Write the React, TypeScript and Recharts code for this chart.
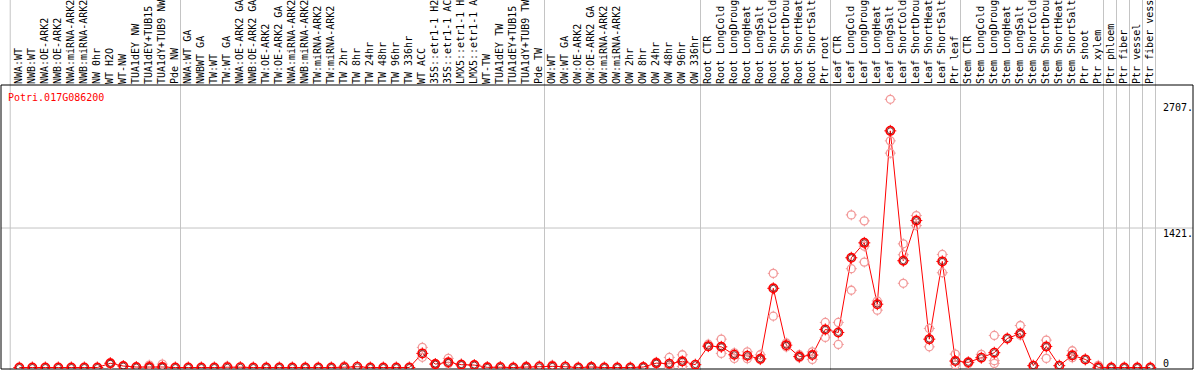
import React from 'react';
import { ComposedChart, Line, XAxis, YAxis, ReferenceLine } from 'recharts';

const title = 'Potri.017G086200';

const labels: string[] = [
  'NWA:WT', 'NWB:WT', 'NWA:OE-ARK2', 'NWB:OE-ARK2', 'NWA:miRNA-ARK2', 'NWB:miRNA-ARK2', 'NW 0hr', 'WT H2O', 'WT-NW', 'TUA1dEY NW',
  'TUA1dEY+TUB15', 'TUA1dY+TUB9 NW', 'Pde NW', 'NWA:WT GA', 'NWBWT GA', 'TW:WT', 'TW:WT GA', 'NWA:OE-ARK2 GA', 'NWB:OE-ARK2 GA', 'TW:OE-ARK2',
  'TW:OE-ARK2 GA', 'NWA:miRNA-ARK2', 'NWB:miRNA-ARK2', 'TW:miRNA-ARK2', 'TW:miRNA-ARK2', 'TW 2hr', 'TW 8hr', 'TW 24hr', 'TW 48hr', 'TW 96hr',
  'TW 336hr', 'WT ACC', '35S::etr1-1 H2', '35S::etr1-1 AC', 'LMX5::etr1-1 H', 'LMX5::etr1-1 A', 'WT-TW', 'TUA1dEY TW', 'TUA1dEY+TUB15', 'TUA1dY+TUB9 TW',
  'Pde TW', 'OW:WT', 'OW:WT GA', 'OW:OE-ARK2', 'OW:OE-ARK2 GA', 'OW:miRNA-ARK2', 'OW:miRNA-ARK2', 'OW 2hr', 'OW 8hr', 'OW 24hr',
  'OW 48hr', 'OW 96hr', 'OW 336hr', 'Root CTR', 'Root LongCold', 'Root LongDroug', 'Root LongHeat', 'Root LongSalt', 'Root ShortCold', 'Root ShortDrou',
  'Root ShortHeat', 'Root ShortSalt', 'Ptr root', 'Leaf CTR', 'Leaf LongCold', 'Leaf LongDroug', 'Leaf LongHeat', 'Leaf LongSalt', 'Leaf ShortCold', 'Leaf ShortDrou',
  'Leaf ShortHeat', 'Leaf ShortSalt', 'Ptr leaf', 'Stem CTR', 'Stem LongCold', 'Stem LongDroug', 'Stem LongHeat', 'Stem LongSalt', 'Stem ShortCold', 'Stem ShortDrou',
  'Stem ShortHeat', 'Stem ShortSalt', 'Ptr shoot', 'Ptr xylem', 'Ptr phloem', 'Ptr fiber', 'Ptr vessel', 'Ptr fiber vess',
];

const means: number[] = [
  0, 0, 0, 0, 0, 0, 0, 43, 15, 5,
  5, 5, 0, 0, 0, 0, 3, 3, 0, 0,
  0, 0, 0, 0, 0, 3, 8, 0, 0, 0,
  0, 144, 35, 53, 29, 25, 2, 3, 0, 5,
  8, 12, 8, 0, 5, 0, 0, 0, 5, 45,
  39, 63, 29, 218, 211, 130, 120, 89, 807, 228,
  112, 127, 388, 357, 1118, 1270, 645, 2411, 1088, 1497,
  289, 1081, 66, 53, 100, 151, 296, 347, 19, 215,
  19, 124, 83, 2, 0, 0, 0, 0,
];

const rep1: (number | null)[] = [
  null, null, null, null, null, null, null, 50, null, null,
  25, 35, null, null, null, null, 15, null, null, null,
  null, null, null, null, null, 15, null, null, null, null,
  null, 205, 40, 93, 35, null, 10, 12, null, 15,
  18, 25, 15, null, 12, null, null, null, null, 55,
  103, 130, null, 238, 289, 150, 160, 130, 959, 250,
  130, 160, 459, 459, 1555, 1494, 678, 2732, 1260, 1548,
  398, 1152, 137, 40, 134, 327, null, 428, null, 279,
  null, 171, null, 22, null, null, null, null,
];

const rep2: (number | null)[] = [
  null, null, null, null, null, null, null, 35, null, null,
  0, 0, null, null, null, null, null, null, null, null,
  null, null, null, null, null, null, null, null, null, null,
  null, 104, 30, 40, 25, null, null, null, null, null,
  null, null, null, null, null, null, null, null, null, 40,
  5, 10, null, 215, 144, 93, 90, 80, 523, 210,
  100, 83, 307, 235, 1007, 1236, 584, 2309, 1149, 1446,
  211, 966, 25, null, null, 42, null, 330, null, 93,
  null, 100, null, null, null, null, null, null,
];

const rep3: (number | null)[] = [
  null, null, null, null, null, null, null, null, null, null,
  null, null, null, null, null, null, null, null, null, null,
  null, null, null, null, null, null, null, null, null, null,
  null, null, null, null, null, null, null, null, null, null,
  null, null, null, null, null, null, null, null, null, null,
  null, null, null, null, null, null, null, null, null, null,
  null, null, null, null, 787, 1074, null, 2184, 858, null,
  null, null, null, null, null, 70, null, null, null, null,
  null, null, null, null, null, null, null, null,
];

const yTicks = [0, 1421, 2707];
const yTickLabels = ['0', '1421.', '2707.'];
const separators = [0.3, 13.4, 41.4, 53.4, 63.4, 73.4, 84.4, 85.4, 86.4, 87.4, 88.4];

const data = labels.map((label, i) => ({
  idx: i + 1,
  label,
  mean: means[i],
  r1: rep1[i],
  r2: rep2[i],
  r3: rep3[i],
}));

const FONT = '"DejaVu Sans Mono", monospace';
const W = 1194;
const H = 370;
const GRAY = '#c4c4c4';
const LABEL_X = 1163;

const TopTick = (props: any) => {
  const { x, payload } = props;
  const lab = labels[payload.value - 1] ?? '';
  return (
    <text
      x={x + 3}
      y={84}
      transform={`rotate(-90, ${x + 3}, 84)`}
      fontFamily={FONT}
      fontSize={10}
      fill="#000"
      textAnchor="start"
    >
      {lab}
    </text>
  );
};

const RightTick = (props: any) => {
  const { y, payload } = props;
  const i = yTicks.indexOf(payload.value);
  const ty = Math.min(y + 9, 367);
  return (
    <text x={LABEL_X} y={ty} fontFamily={FONT} fontSize={10} fill="#000" textAnchor="start">
      {yTickLabels[i]}
    </text>
  );
};

const RepDot = (props: any) => {
  const { cx, cy, value } = props;
  if (value == null || cy == null || isNaN(cy)) return <g key={props.key} />;
  const c = '#f29a9a';
  return (
    <g key={props.key}>
      <circle cx={cx} cy={cy} r={4} fill="none" stroke={c} strokeWidth={1.3} />
      <line x1={cx} x2={cx} y1={cy - 5.5} y2={cy - 3.5} stroke={c} />
      <line x1={cx} x2={cx} y1={cy + 3.5} y2={cy + 5.5} stroke={c} />
      <line x1={cx - 5.5} x2={cx - 3.5} y1={cy} y2={cy} stroke={c} />
      <line x1={cx + 3.5} x2={cx + 5.5} y1={cy} y2={cy} stroke={c} />
    </g>
  );
};

const MeanDot = (props: any) => {
  const { cx, cy } = props;
  if (cy == null || isNaN(cy)) return <g key={props.key} />;
  return (
    <g key={props.key}>
      <circle cx={cx} cy={cy} r={4.2} fill="none" stroke="#ff0000" strokeWidth={1.6} />
      <circle cx={cx} cy={cy} r={3} fill="none" stroke="#600000" strokeWidth={0.8} />
      <line x1={cx} x2={cx} y1={cy - 6} y2={cy - 4} stroke="#ff0000" />
      <line x1={cx} x2={cx} y1={cy + 4} y2={cy + 6} stroke="#ff0000" />
      <line x1={cx - 6} x2={cx - 4} y1={cy} y2={cy} stroke="#ff0000" />
      <line x1={cx + 4} x2={cx + 6} y1={cy} y2={cy} stroke="#ff0000" />
    </g>
  );
};

const FullHeightLine = (props: any) => {
  const { x1 } = props;
  return <line x1={x1} x2={x1} y1={0} y2={H} stroke={GRAY} strokeWidth={1} />;
};

const X_DOMAIN: [number, number] = [-0.408, 91.285];
const Y_DOMAIN: [number, number] = [-15, 2878];

export default function App() {
  return (
    <div style={{ position: 'absolute', left: 0, top: 0, width: W, height: H, background: '#fff' }}>
      <ComposedChart
        width={W}
        height={H}
        data={data}
        margin={{ top: 0, right: 0, bottom: 0, left: 0 }}
      >
        <XAxis
          xAxisId="top"
          dataKey="idx"
          type="number"
          orientation="top"
          domain={X_DOMAIN}
          allowDataOverflow
          ticks={data.map((d) => d.idx)}
          interval={0}
          height={85}
          tick={<TopTick />}
          tickLine={false}
          axisLine={{ stroke: '#000', strokeWidth: 1 }}
        />
        <XAxis
          xAxisId="bottom"
          dataKey="idx"
          type="number"
          orientation="bottom"
          domain={X_DOMAIN}
          allowDataOverflow
          height={1}
          tick={false}
          tickLine={false}
          axisLine={{ stroke: '#000', strokeWidth: 1 }}
        />
        <YAxis
          yAxisId="right"
          orientation="right"
          width={1}
          domain={Y_DOMAIN}
          allowDataOverflow
          ticks={yTicks}
          interval={0}
          tick={<RightTick />}
          tickLine={false}
          axisLine={{ stroke: '#000', strokeWidth: 1 }}
        />
        <YAxis
          yAxisId="left"
          orientation="left"
          width={1}
          domain={Y_DOMAIN}
          allowDataOverflow
          tick={false}
          tickLine={false}
          axisLine={{ stroke: '#000', strokeWidth: 1 }}
        />
        {separators.map((s) => (
          <ReferenceLine
            key={`sep-${s}`}
            xAxisId="top"
            yAxisId="right"
            x={s}
            stroke={GRAY}
            shape={FullHeightLine}
            ifOverflow="visible"
          />
        ))}
        <ReferenceLine xAxisId="top" yAxisId="right" y={1421} stroke={GRAY} strokeWidth={1} />
        <Line xAxisId="top" yAxisId="right" dataKey="r1" stroke="none" dot={<RepDot />} activeDot={false} isAnimationActive={false} connectNulls={false} />
        <Line xAxisId="top" yAxisId="right" dataKey="r2" stroke="none" dot={<RepDot />} activeDot={false} isAnimationActive={false} connectNulls={false} />
        <Line xAxisId="top" yAxisId="right" dataKey="r3" stroke="none" dot={<RepDot />} activeDot={false} isAnimationActive={false} connectNulls={false} />
        <Line
          xAxisId="top"
          yAxisId="right"
          dataKey="mean"
          stroke="#ff0000"
          strokeWidth={1}
          dot={<MeanDot />}
          activeDot={false}
          isAnimationActive={false}
        />
      </ComposedChart>
      <svg width={W} height={H} style={{ position: 'absolute', left: 0, top: 0, pointerEvents: 'none' }}>
        <text x={8} y={101} fontFamily={FONT} fontSize={10} fill="#ff0000">
          {title}
        </text>
      </svg>
    </div>
  );
}
